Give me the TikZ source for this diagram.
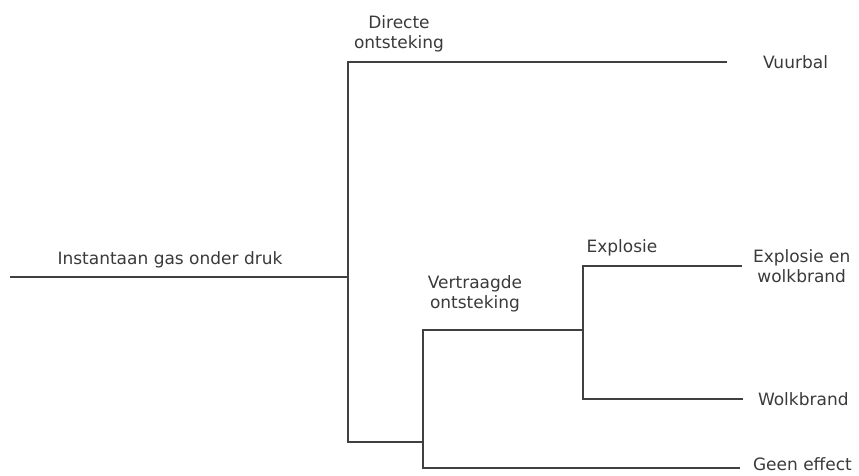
\documentclass[tikz,border=0pt]{standalone}
\usepackage{fontspec}
\setmainfont{DejaVu Sans}
\usetikzlibrary{positioning}
\definecolor{tline}{HTML}{404040}
\definecolor{ttext}{HTML}{3A3A3A}
\tikzset{
  every picture/.style={line width=2pt},
  branch/.style={draw=tline, line join=miter},
  lbl/.style={font=\fontsize{17}{20}\selectfont, text=ttext, align=center, inner sep=0pt},
}

\begin{document}
\begin{tikzpicture}[x=1pt, y=-1pt]
  \useasboundingbox (0,0) rectangle (859,475);
  % branch points
  \coordinate (start) at (10,277);
  \coordinate (j1) at (348,277);
  \coordinate (j1bot) at (348,442);
  \coordinate (vuurEnd) at (727,62);
  \coordinate (j2) at (423,442);
  \coordinate (j2top) at (423,330);
  \coordinate (geenEnd) at (740,468);
  \coordinate (j3) at (583,330);
  \coordinate (j3bot) at (583,399);
  \coordinate (explEnd) at (742,266);
  \coordinate (wolkEnd) at (743,399);
  % tree
  \draw[branch] (start) -- (j1);
  \draw[branch] (vuurEnd) -| (j1bot) -- (j2);
  \draw[branch] (j3) -- (j2top) |- (geenEnd);
  \draw[branch] (explEnd) -| (j3bot) -- (wolkEnd);
  % events
  \node[lbl] (gas) at (170,260) {Instantaan gas onder druk};
  \node[lbl] (direct) at (399,34) {Directe\\ontsteking};
  \node[lbl] (delay) at (475,294) {Vertraagde\\ontsteking};
  \node[lbl] (expl) at (622,248) {Explosie};
  % outcomes
  \node[lbl, right=35pt of vuurEnd] (vuurbal) {Vuurbal};
  \node[lbl, right=10pt of explEnd] (explwolk) {Explosie en\\wolkbrand};
  \node[lbl, right=14pt of wolkEnd] (wolk) {Wolkbrand};
  \node[lbl, right=12pt of geenEnd, yshift=4pt] (geen) {Geen effect};
\end{tikzpicture}
\end{document}
